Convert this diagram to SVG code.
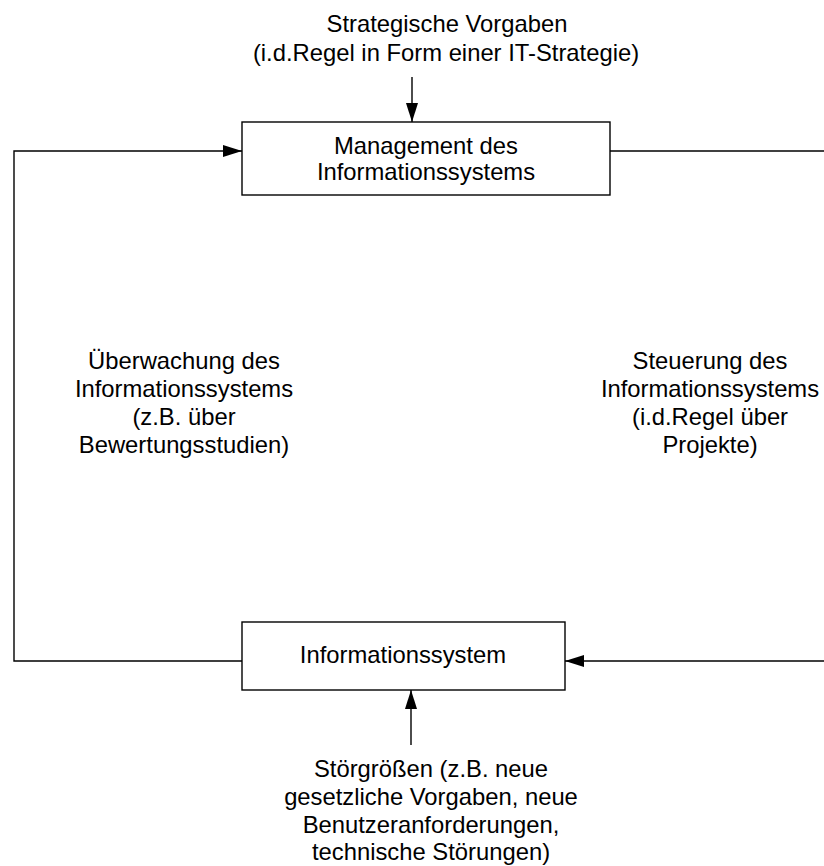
<svg xmlns="http://www.w3.org/2000/svg" width="824" height="866" viewBox="0 0 824 866">
  <style>
    .box { fill: #ffffff; stroke: #000000; stroke-width: 1.4; }
    .line { fill: none; stroke: #000000; stroke-width: 1.4; }
    text { font-family: "Liberation Sans", Arial, sans-serif; font-size: 23.8px; fill: #000000; text-anchor: middle; }
  </style>
  <defs>
    <marker id="arrow" viewBox="0 0 19 12" refX="19" refY="6" markerWidth="19" markerHeight="12" markerUnits="userSpaceOnUse" orient="auto">
      <path d="M0,0 L19,6 L0,12 Z" fill="#000000"/>
    </marker>
  </defs>

  <!-- connectors -->
  <g id="connectors">
    <!-- strategic input into management -->
    <path class="line" d="M412,77 L412,122" marker-end="url(#arrow)"/>
    <!-- feedback: monitoring loop on the left -->
    <path class="line" d="M242,661 L14,661 L14,151 L242,151" marker-end="url(#arrow)"/>
    <!-- control loop on the right -->
    <path class="line" d="M610,151 L826,151"/>
    <path class="line" d="M826,661 L565,661" marker-end="url(#arrow)"/>
    <!-- disturbances into the system -->
    <path class="line" d="M411,745 L411,690" marker-end="url(#arrow)"/>
  </g>

  <!-- top input label -->
  <g id="label-strategy">
    <text x="447" y="32">Strategische Vorgaben</text>
    <text x="446" y="61">(i.d.Regel in Form einer IT-Strategie)</text>
  </g>

  <g id="node-management">
    <rect class="box" x="242" y="122" width="368" height="73"/>
    <text x="426" y="154">Management des</text>
    <text x="426" y="180">Informationssystems</text>
  </g>

  <g id="label-monitoring">
    <text x="184" y="369">Überwachung des</text>
    <text x="184" y="397">Informationssystems</text>
    <text x="184" y="425">(z.B. über</text>
    <text x="184" y="453">Bewertungsstudien)</text>
  </g>

  <g id="label-control">
    <text x="710" y="369">Steuerung des</text>
    <text x="710" y="397">Informationssystems</text>
    <text x="710" y="425">(i.d.Regel über</text>
    <text x="710" y="453">Projekte)</text>
  </g>

  <g id="node-system">
    <rect class="box" x="242" y="622" width="323" height="68"/>
    <text x="403" y="663">Informationssystem</text>
  </g>

  <g id="label-disturbances">
    <text x="431" y="777">Störgrößen (z.B. neue</text>
    <text x="431" y="805">gesetzliche Vorgaben, neue</text>
    <text x="431" y="833">Benutzeranforderungen,</text>
    <text x="431" y="860">technische Störungen)</text>
  </g>
</svg>
